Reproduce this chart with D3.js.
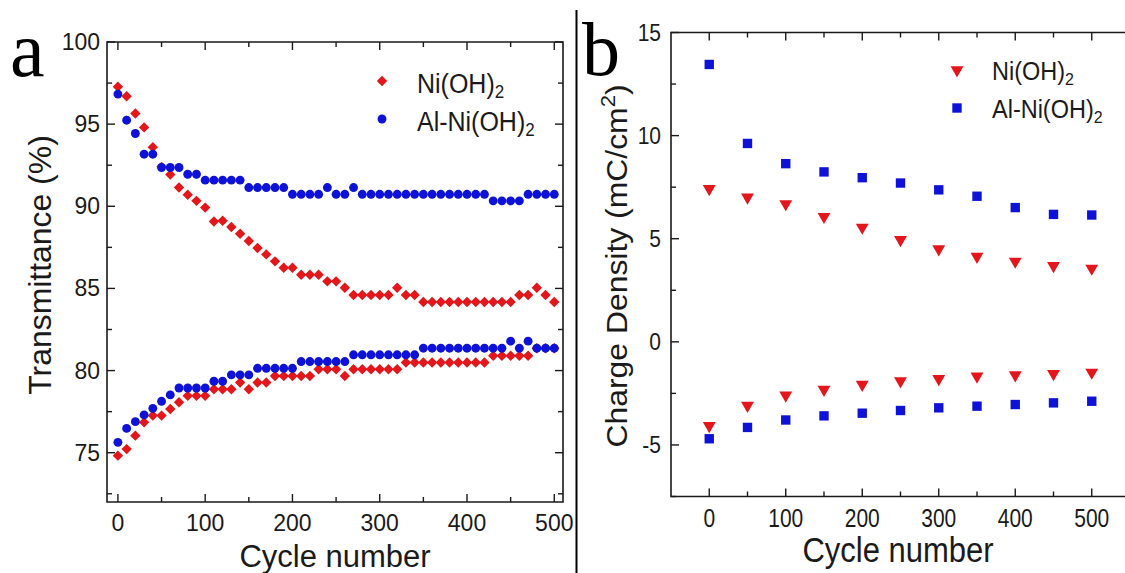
<html>
<head>
  <script src="https://d3js.org/d3.v7.min.js"></script>
  <style>
    body { margin: 0; padding: 0; background: white; overflow: hidden; }
    svg { display: block; font-family: "Liberation Sans", Arial, sans-serif; }
  </style>
</head>
<body>
  <svg width="1125" height="573"></svg>
  <script>
    // ---- panel a data: transmittance (%) vs cycle number, every 10 cycles
    const cyclesA = d3.range(0, 501, 10);
    const niUpper = [97.28, 96.7, 95.65, 94.8, 93.6, 92.4, 91.93, 91.14, 90.7, 90.33,
      89.92, 89.07, 89.12, 88.74, 88.33, 87.89, 87.46, 87.07, 86.65, 86.26,
      86.26, 85.83, 85.83, 85.83, 85.43, 85.43, 85.04, 84.6, 84.6, 84.6,
      84.6, 84.6, 85.04, 84.6, 84.6, 84.17, 84.17, 84.17, 84.17, 84.17,
      84.17, 84.17, 84.17, 84.17, 84.17, 84.17, 84.6, 84.6, 85.04, 84.6, 84.17];
    const niLower = [74.82, 75.22, 76.04, 76.85, 77.26, 77.26, 77.66, 78.07, 78.46, 78.46,
      78.46, 78.86, 78.86, 78.86, 79.27, 78.86, 79.27, 79.27, 79.67, 79.67,
      79.67, 79.67, 79.67, 80.08, 80.08, 80.08, 79.67, 80.08, 80.08, 80.08,
      80.08, 80.08, 80.08, 80.49, 80.49, 80.49, 80.49, 80.49, 80.49, 80.49,
      80.49, 80.49, 80.49, 80.9, 80.9, 80.9, 80.9, 80.9, 81.36, 81.36, 81.36];
    const alUpper = [96.83, 95.24, 94.43, 93.17, 93.17, 92.36, 92.36, 92.36, 91.95, 91.95,
      91.59, 91.59, 91.59, 91.59, 91.59, 91.14, 91.14, 91.14, 91.14, 91.14,
      90.73, 90.73, 90.73, 90.73, 91.14, 90.73, 90.73, 91.14, 90.73, 90.73,
      90.73, 90.73, 90.73, 90.73, 90.73, 90.73, 90.73, 90.73, 90.73, 90.73,
      90.73, 90.73, 90.73, 90.33, 90.33, 90.33, 90.33, 90.73, 90.73, 90.73, 90.73];
    const alLower = [75.63, 76.48, 76.89, 77.3, 77.7, 78.13, 78.52, 78.94, 78.94, 78.94,
      78.94, 79.35, 79.35, 79.74, 79.74, 79.74, 80.14, 80.14, 80.14, 80.14,
      80.14, 80.55, 80.55, 80.55, 80.55, 80.55, 80.55, 80.96, 80.96, 80.96,
      80.96, 80.96, 80.96, 80.96, 80.96, 81.36, 81.36, 81.36, 81.36, 81.36,
      81.36, 81.36, 81.36, 81.36, 81.36, 81.79, 81.36, 81.79, 81.36, 81.36, 81.36];

    // ---- panel b data: charge density (mC/cm2), every 50 cycles
    const cyclesB = d3.range(0, 501, 50);
    const niAnodic = [7.42, 7.01, 6.69, 6.07, 5.55, 4.95, 4.5, 4.14, 3.9, 3.69, 3.56];
    const niCathodic = [-4.07, -3.09, -2.59, -2.31, -2.07, -1.9, -1.79, -1.67, -1.61, -1.55, -1.48];
    const alAnodic = [13.45, 9.62, 8.64, 8.24, 7.96, 7.7, 7.37, 7.06, 6.51, 6.18, 6.15];
    const alCathodic = [-4.7, -4.15, -3.79, -3.59, -3.46, -3.33, -3.2, -3.12, -3.04, -2.96, -2.88];

    const ticksX = d3.range(0, 501, 100);
    const ticksA = [75, 80, 85, 90, 95, 100];
    const ticksB = [-5, 0, 5, 10, 15];

    const red = "#e3161b", blue = "#0d12d6", ink = "#1a1a1a";
    const svg = d3.select("svg");

    // text placed at (x, y) baseline, optionally stretched along its height (or length when rotated)
    function label(g, x, y, str, size, anchor, k, rot) {
      return g.append("text")
        .attr("transform", `translate(${x},${y}) rotate(${rot || 0}) scale(${rot ? k : 1},${rot ? 1 : k})`)
        .attr("text-anchor", anchor).attr("font-size", size).attr("fill", ink).text(str);
    }

    // divider between panels
    svg.append("line").attr("x1", 576.5).attr("x2", 576.5).attr("y1", 10).attr("y2", 573)
      .attr("stroke", "#000").attr("stroke-width", 2);

    function frameTicks(g, x, y, xMinor, yMinor, box) {
      const [x0, x1] = box.x, [y0, y1] = box.y;
      g.append("path")
        .attr("d", box.right
          ? `M${x0},${y0}H${x1}V${y1}H${x0}Z`
          : `M${x1},${y0}H${x0}V${y1}H${x1}`)
        .attr("fill", "none").attr("stroke", ink).attr("stroke-width", 1.6);
      const t = g.append("g").attr("stroke", ink).attr("stroke-width", 1.4);
      xMinor.forEach(v => {
        const len = v % 100 === 0 ? 8 : 5;
        t.append("line").attr("x1", x(v)).attr("x2", x(v)).attr("y1", y1).attr("y2", y1 - len);
        t.append("line").attr("x1", x(v)).attr("x2", x(v)).attr("y1", y0).attr("y2", y0 + len);
      });
      yMinor.forEach(v => {
        const len = v % 5 === 0 ? 8 : 5;
        t.append("line").attr("x1", x0).attr("x2", x0 + len).attr("y1", y(v)).attr("y2", y(v));
        if (box.right) t.append("line").attr("x1", x1).attr("x2", x1 - len).attr("y1", y(v)).attr("y2", y(v));
      });
    }

    function legend(g, items, lx, ly, gap, size, k, dyText) {
      items.forEach((it, i) => {
        g.append("path").attr("d", it.sym).attr("fill", it.color)
          .attr("transform", `translate(${lx},${ly + i * gap}) rotate(${it.rot || 0})`);
        const tx = label(g, lx + 35, ly + i * gap + dyText, null, size, "start", k);
        tx.append("tspan").text(it.label);
        tx.append("tspan").attr("dy", 5).attr("font-size", size * 0.68).text("2");
      });
    }

    // ================= panel a =================
    const xa = d3.scaleLinear().domain([-12.5, 510]).range([107, 563]);
    const ya = d3.scaleLinear().domain([72, 100]).range([502, 42]);
    const ga = svg.append("g");
    frameTicks(ga, xa, ya, d3.range(0, 501, 50), d3.range(72.5, 100.1, 2.5),
      { x: [107, 563], y: [42, 502], right: true });

    ticksX.forEach(d => label(ga, xa(d), 531, d, 23, "middle", 1.05));
    ticksA.forEach(d => label(ga, 100, ya(d) + 8, d, 23, "end", 1.05));
    label(ga, 335, 567, "Cycle number", 31, "middle", 1);
    label(ga, 51, 265, "Transmittance (%)", 31, "middle", 1.03, -90);
    ga.append("text").attr("x", 10).attr("y", 76).attr("font-family", "Liberation Serif, Times New Roman, serif")
      .attr("font-size", 78).attr("fill", "#000").text("a");

    const diamond = d3.symbol().type(d3.symbolSquare).size(54)();
    const circle = d3.symbol().type(d3.symbolCircle).size(62)();
    [niUpper, niLower].forEach(s => {
      ga.append("g").selectAll("path").data(cyclesA.map((c, i) => [c, s[i]])).enter().append("path")
        .attr("d", diamond).attr("fill", red)
        .attr("transform", d => `translate(${xa(d[0])},${ya(d[1])}) rotate(45)`);
    });
    [alUpper, alLower].forEach(s => {
      ga.append("g").selectAll("path").data(cyclesA.map((c, i) => [c, s[i]])).enter().append("path")
        .attr("d", circle).attr("fill", blue)
        .attr("transform", d => `translate(${xa(d[0])},${ya(d[1])})`);
    });
    legend(ga, [
      { sym: diamond, rot: 45, color: red, label: "Ni(OH)" },
      { sym: circle, color: blue, label: "Al-Ni(OH)" }
    ], 382, 81, 38, 25, 1.08, 12);

    // ================= panel b =================
    const xb = d3.scaleLinear().domain([-50, 550]).range([671, 1130]);
    const yb = d3.scaleLinear().domain([-7.5, 15]).range([496.5, 32.5]);
    const gb = svg.append("g");
    frameTicks(gb, xb, yb, d3.range(0, 501, 50), d3.range(-7.5, 15.1, 2.5),
      { x: [671, 1130], y: [32.5, 496.5], right: false });

    ticksX.forEach(d => label(gb, xb(d), 527, d, 21, "middle", 1.24));
    ticksB.forEach(d => label(gb, 661, yb(d) + 8, d, 21, "end", 1.12));
    label(gb, 898, 562, "Cycle number", 31, "middle", 1.15);
    const yt = label(gb, 627, 266, null, 29, "middle", 1.1, -90);
    yt.append("tspan").text("Charge Density (mC/cm");
    yt.append("tspan").attr("dy", -12).attr("font-size", 20).text("2");
    yt.append("tspan").attr("dy", 12).text(")");
    gb.append("text").attr("x", 582).attr("y", 75)
      .attr("font-family", "Liberation Serif, Times New Roman, serif")
      .attr("font-size", 76).attr("fill", "#000").text("b");

    const tri = d3.symbol().type(d3.symbolTriangle).size(72)();
    const square = d3.symbol().type(d3.symbolSquare).size(88)();
    [niAnodic, niCathodic].forEach(s => {
      gb.append("g").selectAll("path").data(cyclesB.map((c, i) => [c, s[i]])).enter().append("path")
        .attr("d", tri).attr("fill", red)
        .attr("transform", d => `translate(${xb(d[0])},${yb(d[1])}) rotate(180)`);
    });
    [alAnodic, alCathodic].forEach(s => {
      gb.append("g").selectAll("path").data(cyclesB.map((c, i) => [c, s[i]])).enter().append("path")
        .attr("d", square).attr("fill", blue)
        .attr("transform", d => `translate(${xb(d[0])},${yb(d[1])})`);
    });
    legend(gb, [
      { sym: tri, rot: 180, color: red, label: "Ni(OH)" },
      { sym: square, color: blue, label: "Al-Ni(OH)" }
    ], 957, 70, 38, 23.5, 1.08, 10);
  </script>
</body>
</html>
